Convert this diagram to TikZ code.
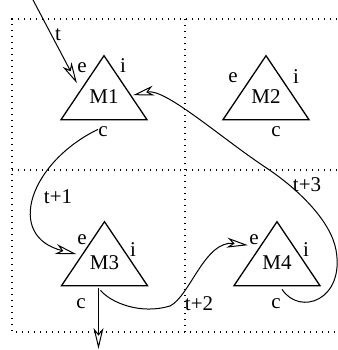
\documentclass[tikz,border=0pt]{standalone}
\usepackage{fontspec}
\setmainfont{Liberation Serif}
\usetikzlibrary{shapes.geometric,arrows.meta}

\begin{document}
\begin{tikzpicture}[x=1pt, y=-1pt,
	font=\fontsize{21}{24}\selectfont,
	grid/.style={line width=1.1pt, dash pattern=on 1.1pt off 4.9pt},
	agent/.style={
		draw, line width=1.3pt, isosceles triangle, shape border rotate=90,
		isosceles triangle stretches, minimum width=86pt, minimum height=64pt,
		inner sep=0pt, text depth=10pt, anchor=apex
	},
	port/.style={inner sep=1pt},
	hop/.style={line width=1pt, -{Stealth[open, length=21pt, width=10pt, inset=6pt]}},
	]
	\useasboundingbox (0,0) rectangle (337,350);
	
	% grid of the four cells
	\draw[grid] (337,19) -- (12,19) -- (12,332) -- (337,332);
	\draw[grid] (185,19) -- (185,332);
	\draw[grid] (12,170) -- (337,170);
	
	% agents (placed by apex)
	\node[agent] (M1) at (104,54)  {M1};
	\node[agent] (M2) at (266,54)  {M2};
	\node[agent] (M3) at (104.5,220) {M3};
	\node[agent] (M4) at (277,220) {M4};
	
	% ports
	\node[port] (M1e) at (82,68)   {e};
	\node[port] (M1i) at (123,66)  {i};
	\node[port] (M1c) at (103,132) {c};
	\node[port] (M2e) at (233,78)  {e};
	\node[port] (M2i) at (296,77)  {i};
	\node[port] (M2c) at (276,132) {c};
	\node[port] (M3e) at (82,240)  {e};
	\node[port] (M3i) at (133,250) {i};
	\node[port] (M3c) at (81,304)  {c};
	\node[port] (M4e) at (254,240) {e};
	\node[port] (M4i) at (306,250) {i};
	\node[port] (M4c) at (276,304) {c};
	
	% entry and exit
	\coordinate (in)  at (32,-2);
	\coordinate (out) at (98.5,349);
	
	% hops
	\draw[hop] (in) -- ([shift={(-5pt,4pt)}]M1.left side);
	\draw[hop] ([shift={(-6pt,-9pt)}]M1.lower side)
		.. controls +(-68,33) and +(-72,-18) .. ([shift={(-6pt,-1pt)}]M3.left side);
	\draw[hop] ([shift={(-6pt,-2pt)}]M3.lower side) -- (out);
	\draw[hop] ([shift={(-4pt,-4pt)}]M3.lower side)
		.. controls +(10,12) and (140,315) .. (170,306)
		.. controls (190,296) and (205,240) .. ([shift={(-7pt,8pt)}]M4.left side);
	\draw[hop] ([shift={(5pt,-3pt)}]M4.lower side)
		.. controls +(18,27) and (345,300) .. (336,250)
		.. controls (331,222) and (300,190) .. (265,167)
		.. controls (220,137) and (165,88) .. ([shift={(7pt,-8pt)}]M1.right side);
	
	% time labels
	\node at (58,35)  {t};
	\node at (58,197) {t+1};
	\node at (199,304) {t+2};
	\node at (307,185) {t+3};
	
\end{tikzpicture}
\end{document}
